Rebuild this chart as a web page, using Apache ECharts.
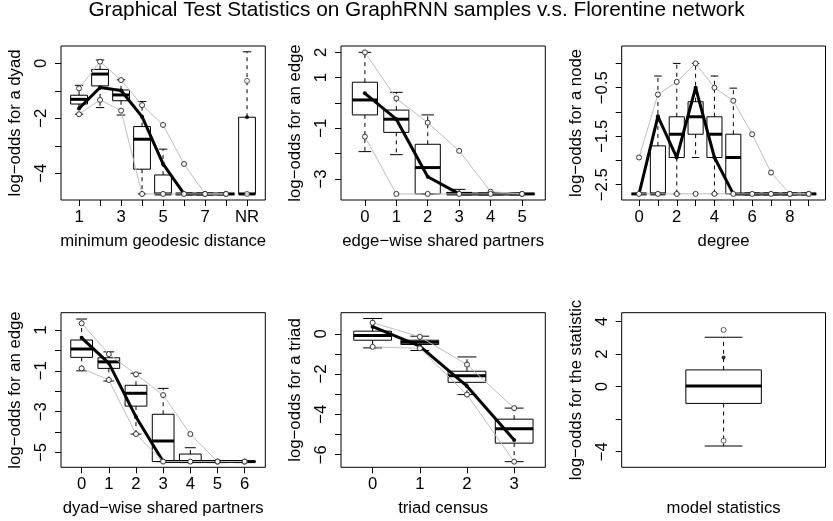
<!DOCTYPE html>
<html><head><meta charset="utf-8">
<script src="https://cdn.jsdelivr.net/npm/echarts@6.0.0/dist/echarts.min.js"></script>
<style>html,body{margin:0;padding:0;background:#fff}#c{width:833px;height:521px}</style>
</head><body><div id="c"></div>
<script>
const TITLE = 'Graphical Test Statistics on GraphRNN samples v.s. Florentine network';

// ---------- Panel 1: minimum geodesic distance (9 = NR) ----------
const F1 = -4.75;
const geoCats = [1, 2, 3, 4, 5, 6, 7, 8, 9];
const geoLo  = [-1.85, -1.61, -1.88, F1, F1, F1, F1, F1, F1];
const geoQ1  = [-1.48, -0.82, -1.36, -3.85, F1, F1, F1, F1, F1];
const geoMed = [-1.31, -0.39, -1.15, -2.76, F1, F1, F1, F1, F1];
const geoQ3  = [-1.16, -0.22, -0.97, -2.30, -4.06, F1, F1, F1, -1.96];
const geoHi  = [-0.80, 0.12, -0.60, -1.39, -3.12, F1, F1, F1, 0.42];
const geoLineCats = [1, 2, 3, 4, 5, 6, 7, 8];
const geoUpper = [-0.91, 0.06, -0.61, -1.52, -2.24, -3.66, F1, F1];
const geoLower = [-1.85, -1.33, -1.72, F1, F1, F1, F1, F1];
const geoObs   = [-1.64, -0.88, -0.99, -1.94, -3.66, F1, F1, F1];
const geoNRUpper = -0.64, geoNRLower = F1, geoNRObs = -1.96;
const geoXTicks = [1, 2, 3, 4, 5, 6, 7, 8, 9];
const geoXLabelVals = [1, 3, 5, 7, 9];
const geoXLabels = ['1', '3', '5', '7', 'NR'];
const geoYTicks = [-4, -3, -2, -1, 0];
const geoYLabelVals = [-4, -2, 0];

// ---------- Panel 2: edge-wise shared partners ----------
const F2 = -3.59;
const espCats = [0, 1, 2, 3, 4, 5];
const espLo  = [-1.92, -2.04, F2, F2, F2, F2];
const espQ1  = [-0.47, -1.16, F2, F2, F2, F2];
const espMed = [0.12, -0.64, -2.55, F2, F2, F2];
const espQ3  = [0.82, -0.28, -1.63, -3.53, F2, F2];
const espHi  = [2.00, 0.42, -0.47, -3.41, F2, F2];
const espUpper = [2.00, 0.18, -0.78, -1.89, -3.50, F2];
const espLower = [-1.33, F2, F2, F2, F2, F2];
const espObs   = [0.38, -0.64, -2.91, F2, F2, F2];
const espXTicks = [0, 1, 2, 3, 4, 5];
const espYTicks = [-3, -2, -1, 0, 1, 2];
const espYLabelVals = [-3, -1, 1, 2];

// ---------- Panel 3: degree ----------
const F3 = -2.69;
const degCats = [0, 1, 2, 3, 4, 5, 6, 7, 8, 9];
const degLo  = [F3, F3, F3, -1.94, F3, F3, F3, F3, F3, F3];
const degQ1  = [F3, F3, -1.94, -1.46, -1.94, F3, F3, F3, F3, F3];
const degMed = [F3, F3, -1.46, -1.10, -1.46, -1.94, F3, F3, F3, F3];
const degQ3  = [F3, -1.70, -1.10, -0.79, -1.10, -1.46, F3, F3, F3, F3];
const degHi  = [F3, -0.26, 0.00, 0.00, -0.26, -0.51, F3, F3, F3, F3];
const degUpper = [-1.94, -0.64, -0.38, 0.00, -0.50, -0.77, -1.46, -2.25, F3, F3];
const degLower = [F3, F3, F3, F3, F3, F3, F3, F3, F3, F3];
const degObs   = [F3, -1.09, -1.94, -0.50, -1.94, F3, F3, F3, F3, F3];
const degXTicks = [0, 1, 2, 3, 4, 5, 6, 7, 8, 9];
const degXLabelVals = [0, 2, 4, 6, 8];
const degYTicks = [-2.5, -2, -1.5, -1, -0.5, 0];
const degYLabelVals = [-2.5, -1.5, -0.5];

// ---------- Panel 4: dyad-wise shared partners ----------
const F4 = -5.45;
const dspCats = [0, 1, 2, 3, 4, 5, 6];
const dspLo  = [-1.00, -1.50, -4.10, F4, F4, F4, F4];
const dspQ1  = [-0.34, -0.88, -2.73, F4, F4, F4, F4];
const dspMed = [0.07, -0.56, -2.10, -4.44, F4, F4, F4];
const dspQ3  = [0.51, -0.36, -1.71, -3.13, -5.08, F4, F4];
const dspHi  = [1.54, -0.07, -1.12, -1.86, -4.77, F4, F4];
const dspUpper = [1.33, -0.18, -1.17, -2.19, -4.10, F4, F4];
const dspLower = [-0.88, -1.45, -4.10, F4, F4, F4, F4];
const dspObs   = [0.62, -0.62, -3.26, F4, F4, F4, F4];
const dspXTicks = [0, 1, 2, 3, 4, 5, 6];
const dspYTicks = [-5, -4, -3, -2, -1, 0, 1];
const dspYLabelVals = [-5, -3, -1, 1];

// ---------- Panel 5: triad census ----------
const triCats = [0, 1, 2, 3];
const triLo  = [-0.70, -0.83, -3.02, -6.35];
const triQ1  = [-0.32, -0.53, -2.41, -5.43];
const triMed = [-0.08, -0.42, -2.08, -4.72];
const triQ3  = [0.13, -0.32, -1.86, -4.24];
const triHi  = [0.76, -0.12, -1.15, -3.69];
const triUpper = [0.55, -0.15, -1.53, -3.69];
const triLower = [-0.65, -0.72, -3.02, -6.35];
const triObs   = [0.35, -0.61, -2.60, -5.27];
const triXTicks = [0, 1, 2, 3];
const triYTicks = [-6, -5, -4, -3, -2, -1, 0];
const triYLabelVals = [-6, -4, -2, 0];

// ---------- Panel 6: model statistics ----------
const modCats = [1];
const modLo  = [-3.65];
const modQ1  = [-1.03];
const modMed = [0.04];
const modQ3  = [1.03];
const modHi  = [3.04];
const modUpper = [3.49];
const modLower = [-3.32];
const modObs   = [1.80];
const modYTicks = [-4, -2, 0, 2, 4];
const modYLabelVals = [-4, 0, 2, 4];

// ---------------------------------------------------------------
const FONT = 'Liberation Sans, Arial, Helvetica, sans-serif';
const FS = 16.7;
const MINUS = '\u2212';
function fmtNum(v) { return v < 0 ? MINUS + String(Math.abs(v)) : String(v); }
function zip(xs, ys) { return xs.map((x, i) => [x, ys[i]]); }

const panels = [
  { grid: {left: 61, top: 46, width: 204.3, height: 154}, xMin: 0.14, xMax: 9.87, yMin: -4.97, yMax: 0.63,
    cats: geoCats, lo: geoLo, q1: geoQ1, med: geoMed, q3: geoQ3, hi: geoHi,
    lineCats: geoLineCats, upper: geoUpper, lower: geoLower, obs: geoObs,
    xTicks: geoXTicks, xLabelVals: geoXLabelVals, xLabels: geoXLabels,
    yTicks: geoYTicks, yLabelVals: geoYLabelVals,
    xName: 'minimum geodesic distance', yName: 'log' + MINUS + 'odds for a dyad',
    extraEmpty: [[9, geoNRUpper], [9, geoNRLower]], extraFilled: [[9, geoNRObs]] },
  { grid: {left: 341, top: 46, width: 204.3, height: 154}, xMin: -0.76, xMax: 5.74, yMin: -3.83, yMax: 2.25,
    cats: espCats, lo: espLo, q1: espQ1, med: espMed, q3: espQ3, hi: espHi,
    lineCats: espCats, upper: espUpper, lower: espLower, obs: espObs,
    xTicks: espXTicks, xLabelVals: espXTicks,
    yTicks: espYTicks, yLabelVals: espYLabelVals,
    xName: 'edge' + MINUS + 'wise shared partners', yName: 'log' + MINUS + 'odds for an edge' },
  { grid: {left: 621.7, top: 46, width: 203.8, height: 154}, xMin: -0.92, xMax: 9.89, yMin: -2.816, yMax: 0.359,
    cats: degCats, lo: degLo, q1: degQ1, med: degMed, q3: degQ3, hi: degHi,
    lineCats: degCats, upper: degUpper, lower: degLower, obs: degObs,
    xTicks: degXTicks, xLabelVals: degXLabelVals,
    yTicks: degYTicks, yLabelVals: degYLabelVals,
    xName: 'degree', yName: 'log' + MINUS + 'odds for a node' },
  { grid: {left: 61, top: 312.7, width: 204.3, height: 154.6}, xMin: -0.76, xMax: 6.76, yMin: -5.73, yMax: 1.85,
    cats: dspCats, lo: dspLo, q1: dspQ1, med: dspMed, q3: dspQ3, hi: dspHi,
    lineCats: dspCats, upper: dspUpper, lower: dspLower, obs: dspObs,
    xTicks: dspXTicks, xLabelVals: dspXTicks,
    yTicks: dspYTicks, yLabelVals: dspYLabelVals,
    xName: 'dyad' + MINUS + 'wise shared partners', yName: 'log' + MINUS + 'odds for an edge' },
  { grid: {left: 341, top: 312.7, width: 204.3, height: 154.6}, xMin: -0.67, xMax: 3.66, yMin: -6.63, yMax: 1.047,
    cats: triCats, lo: triLo, q1: triQ1, med: triMed, q3: triQ3, hi: triHi,
    lineCats: triCats, upper: triUpper, lower: triLower, obs: triObs,
    xTicks: triXTicks, xLabelVals: triXTicks,
    yTicks: triYTicks, yLabelVals: triYLabelVals,
    xName: 'triad census', yName: 'log' + MINUS + 'odds for a triad' },
  { grid: {left: 621.7, top: 312.7, width: 203.8, height: 154.6}, xMin: -0.08, xMax: 2.08, yMin: -4.96, yMax: 4.55,
    cats: modCats, lo: modLo, q1: modQ1, med: modMed, q3: modQ3, hi: modHi,
    lineCats: null, upper: modUpper, lower: modLower, obs: modObs,
    xTicks: null, xLabelVals: null,
    yTicks: modYTicks, yLabelVals: modYLabelVals,
    xName: 'model statistics', yName: 'log' + MINUS + 'odds for the statistic',
    extraEmpty: [[1, modUpper[0]], [1, modLower[0]]], extraFilled: [[1, modObs[0]]] }
];

function renderBox(params, api) {
  const x = api.value(0), lo = api.value(1), q1 = api.value(2), md = api.value(3), q3 = api.value(4), hi = api.value(5);
  const hw = 0.4, sw = 0.2;
  const a = api.coord([x - hw, q3]), b = api.coord([x + hw, q1]);
  const m1 = api.coord([x - hw, md]), m2 = api.coord([x + hw, md]);
  const cHi = api.coord([x, hi]), cQ3 = api.coord([x, q3]), cQ1 = api.coord([x, q1]), cLo = api.coord([x, lo]);
  const s1 = api.coord([x - sw, hi]), s2 = api.coord([x + sw, hi]);
  const t1 = api.coord([x - sw, lo]), t2 = api.coord([x + sw, lo]);
  const thin = () => ({stroke: '#000', lineWidth: 1, fill: 'none'});
  const dash = () => ({stroke: '#000', lineWidth: 1, lineDash: [4, 4]});
  return {type: 'group', children: [
    {type: 'line', shape: {x1: cQ3[0], y1: cQ3[1], x2: cHi[0], y2: cHi[1]}, style: dash()},
    {type: 'line', shape: {x1: cQ1[0], y1: cQ1[1], x2: cLo[0], y2: cLo[1]}, style: dash()},
    {type: 'line', shape: {x1: s1[0], y1: s1[1], x2: s2[0], y2: s2[1]}, style: thin()},
    {type: 'line', shape: {x1: t1[0], y1: t1[1], x2: t2[0], y2: t2[1]}, style: thin()},
    {type: 'rect', shape: {x: a[0], y: a[1], width: b[0] - a[0], height: b[1] - a[1]}, style: thin()},
    {type: 'line', shape: {x1: m1[0], y1: m1[1], x2: m2[0], y2: m2[1]}, style: {stroke: '#000', lineWidth: 3, lineCap: 'butt'}}
  ]};
}

const option = {
  animation: false,
  backgroundColor: '#fff',
  title: {text: TITLE, left: 'center', top: 0, padding: 0,
    textStyle: {fontFamily: FONT, fontSize: 20.8, fontWeight: 'normal', color: '#000'}},
  grid: [], xAxis: [], yAxis: [], series: []
};

panels.forEach((p, i) => {
  option.grid.push(Object.assign({show: true, borderColor: '#000', borderWidth: 1, backgroundColor: 'transparent', containLabel: false}, p.grid));
  const xLabelFmt = (v) => {
    if (p.xLabels) { const k = p.xLabelVals.indexOf(v); return k >= 0 ? p.xLabels[k] : ''; }
    return fmtNum(v);
  };
  option.xAxis.push({
    type: 'value', gridIndex: i, min: p.xMin, max: p.xMax, position: 'bottom',
    axisLine: {show: false, onZero: false}, splitLine: {show: false},
    axisTick: p.xTicks ? {show: true, inside: false, length: 6, customValues: p.xTicks, lineStyle: {color: '#000', width: 1}} : {show: false},
    axisLabel: p.xLabelVals ? {show: true, customValues: p.xLabelVals, formatter: xLabelFmt, margin: 9, color: '#000', fontSize: FS, fontFamily: FONT} : {show: false},
    name: p.xName, nameLocation: 'middle', nameGap: 33,
    nameTextStyle: {color: '#000', fontSize: FS, fontFamily: FONT}
  });
  option.yAxis.push({
    type: 'value', gridIndex: i, min: p.yMin, max: p.yMax, position: 'left',
    axisLine: {show: false, onZero: false}, splitLine: {show: false},
    axisTick: {show: true, inside: false, length: 6, customValues: p.yTicks, lineStyle: {color: '#000', width: 1}},
    axisLabel: {show: true, customValues: p.yLabelVals, formatter: fmtNum, rotate: 90, margin: 11, color: '#000', fontSize: FS, fontFamily: FONT},
    name: p.yName, nameLocation: 'middle', nameGap: 37,
    nameTextStyle: {color: '#000', fontSize: FS, fontFamily: FONT}
  });
  const boxData = p.cats.map((c, k) => [c, p.lo[k], p.q1[k], p.med[k], p.q3[k], p.hi[k]]);
  option.series.push({type: 'custom', xAxisIndex: i, yAxisIndex: i, renderItem: renderBox, data: boxData,
    encode: {x: 0, y: [1, 2, 3, 4, 5]}, z: 2, silent: true});
  const emptyStyle = {color: '#fff', borderColor: '#333', borderWidth: 1};
  if (p.lineCats) {
    option.series.push({type: 'line', xAxisIndex: i, yAxisIndex: i, data: zip(p.lineCats, p.obs),
      symbol: 'circle', symbolSize: 4, showSymbol: true,
      lineStyle: {color: '#000', width: 3, cap: 'round', join: 'round'}, itemStyle: {color: '#000'},
      z: 3, silent: true});
    [p.upper, p.lower].forEach(arr => {
      option.series.push({type: 'line', xAxisIndex: i, yAxisIndex: i, data: zip(p.lineCats, arr),
        symbol: 'circle', symbolSize: 5, showSymbol: true,
        lineStyle: {color: '#bebebe', width: 1}, itemStyle: emptyStyle,
        z: 4, silent: true});
    });
  }
  if (p.extraEmpty) {
    option.series.push({type: 'scatter', xAxisIndex: i, yAxisIndex: i, data: p.extraEmpty,
      symbol: 'circle', symbolSize: 5, itemStyle: emptyStyle, z: 5, silent: true});
  }
  if (p.extraFilled) {
    option.series.push({type: 'scatter', xAxisIndex: i, yAxisIndex: i, data: p.extraFilled,
      symbol: 'circle', symbolSize: 4, itemStyle: {color: '#000'}, z: 5, silent: true});
  }
});

const chart = echarts.init(document.getElementById('c'), null, {renderer: 'canvas'});
chart.setOption(option);
</script></body></html>
